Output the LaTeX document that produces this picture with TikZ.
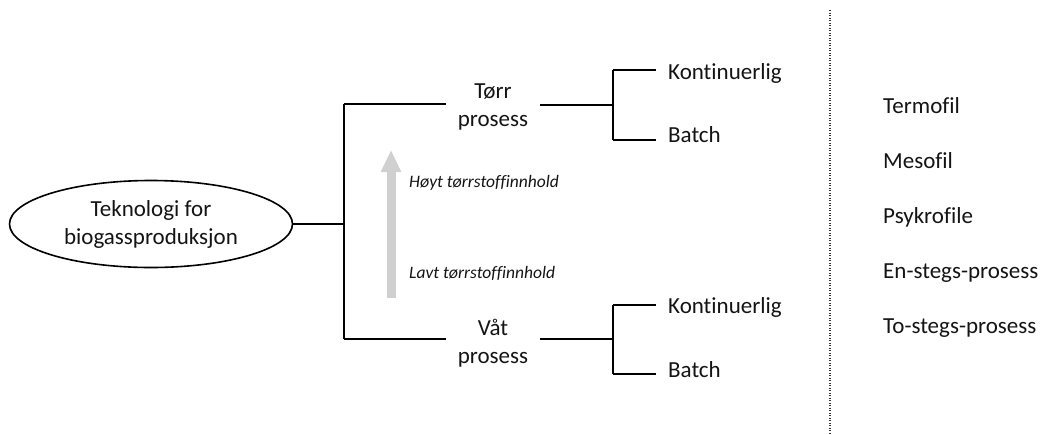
\documentclass[tikz,border=0pt]{standalone}
\usepackage{fontspec}
\setmainfont{Carlito}[Ligatures={NoCommon}]
\usetikzlibrary{shapes.geometric,arrows.meta}
\definecolor{arrgray}{RGB}{208,208,208}
\definecolor{ink}{RGB}{20,20,20}
\begin{document}
\begin{tikzpicture}[x=1pt,y=-1pt,
  conn/.style={line width=1.6pt, black},
  maintext/.style={font=\fontsize{23}{28}\selectfont, text=ink},
  rootnode/.style={maintext, draw=black, line width=1.6pt, ellipse, minimum width=283pt, minimum height=87pt, inner sep=0pt, align=center},
  procnode/.style={maintext, align=center, inner xsep=12pt, inner ysep=0pt},
  leaf/.style={maintext, anchor=base west, inner xsep=12pt, inner ysep=0pt},
  listitem/.style={maintext, anchor=base west, inner sep=0pt},
  note/.style={font=\fontsize{17.5}{21}\selectfont\itshape, text=ink, anchor=base west, inner sep=0pt},
  bigarrow/.style={line width=9pt, arrgray, -{Triangle[length=22pt,width=19pt]}},
  divider/.style={line width=1.3pt, dash pattern=on 1.3pt off 1.2pt, black!80}
]
\useasboundingbox (0,0) rectangle (1040,434);

% root
\node[rootnode] (root) at (151,224) {Teknologi for\\biogassproduksjon};

% process nodes
\node[procnode] (torr) at (493,107) {Tørr\\prosess};
\node[procnode] (vat) at (493,343) {Våt\\prosess};

% junctions
\coordinate (j1) at (344,224);
\coordinate (j1t) at (344,104);
\coordinate (j1b) at (344,339);
\coordinate (j2) at (613,105);
\coordinate (j2t) at (613,70);
\coordinate (j2b) at (613,140);
\coordinate (j3) at (613,339);
\coordinate (j3t) at (613,305);
\coordinate (j3b) at (613,374);

% leaves
\node[leaf] (k1) at (656,79) {Kontinuerlig};
\node[leaf] (b1) at (656,142) {Batch};
\node[leaf] (k2) at (656,313) {Kontinuerlig};
\node[leaf] (b2) at (656,377) {Batch};

% connectors
\draw[conn] (root.east) -- (j1);
\draw[conn] (j1t) -- (j1b);
\draw[conn] (j1t) -- (j1t -| torr.west);
\draw[conn] (j1b) -- (j1b -| vat.west);
\draw[conn] (j2 -| torr.east) -- (j2);
\draw[conn] (j2t) -- (j2b);
\draw[conn] (j2t) -- (j2t -| k1.west);
\draw[conn] (j2b) -- (j2b -| b1.west);
\draw[conn] (j3 -| vat.east) -- (j3);
\draw[conn] (j3t) -- (j3b);
\draw[conn] (j3t) -- (j3t -| k2.west);
\draw[conn] (j3b) -- (j3b -| b2.west);

% gray arrow and notes
\coordinate (alo) at (391,298);
\coordinate (ahi) at (391,150);
\draw[bigarrow] (alo) -- (ahi);
\node[note] (hoy) at (409,187) {Høyt tørrstoffinnhold};
\node[note] (lav) at (409,278) {Lavt tørrstoffinnhold};

% divider
\coordinate (dtop) at (830,10);
\coordinate (dbot) at (830,433);
\draw[divider] (dtop) -- (dbot);

% list
\node[listitem] (l1) at (883,113) {Termofil};
\node[listitem] (l2) at (883,168) {Mesofil};
\node[listitem] (l3) at (883,223) {Psykrofile};
\node[listitem] (l4) at (883,278) {En-stegs-prosess};
\node[listitem] (l5) at (883,333) {To-stegs-prosess};
\end{tikzpicture}
\end{document}
